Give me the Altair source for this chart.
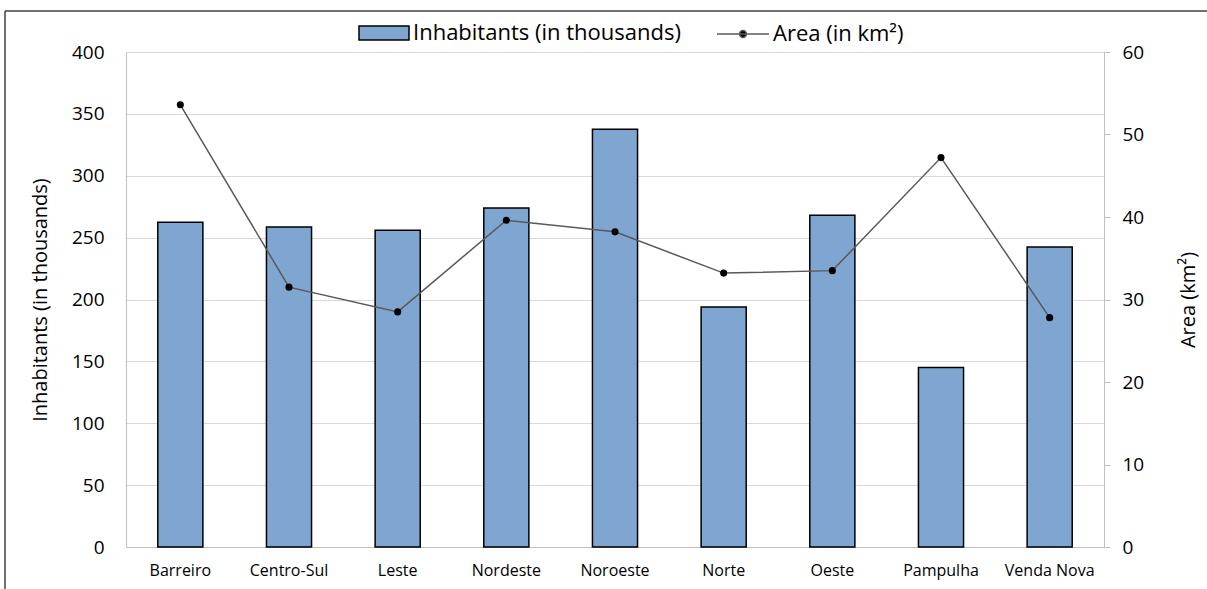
import altair as alt
import pandas as pd

districts = ["Barreiro", "Centro-Sul", "Leste", "Nordeste", "Noroeste",
             "Norte", "Oeste", "Pampulha", "Venda Nova"]
inhabitants = [262.5, 258.5, 256, 274, 337.5, 194, 268, 145, 242.5]
area = [53.6, 31.5, 28.5, 39.6, 38.2, 33.2, 33.5, 47.2, 27.8]

S1 = "Inhabitants (in thousands)"
S2 = "Area (in km²)"

df = pd.DataFrame({"district": districts, "inh": inhabitants, "area": area,
                   "s1": S1, "s2": S2})

FONT = "Open Sans"
x = alt.X("district:N", sort=districts, title=None,
          scale=alt.Scale(paddingInner=0.585, paddingOuter=0.2925),
          axis=alt.Axis(labelAngle=0, labelFontSize=16, labelPadding=15,
                        ticks=False, domainColor="#bfbfbf", labelColor="#000",
                        labelFont=FONT))

right_axis = alt.Axis(values=list(range(0, 61, 10)), orient="right",
                      grid=False, tickSize=6, tickColor="#bfbfbf",
                      labelPadding=12, labelFontSize=19, titleFontSize=20,
                      titleFontWeight="normal", titlePadding=55, titleAngle=270,
                      domainColor="#bfbfbf", labelColor="#000",
                      titleColor="#000", labelFont=FONT, titleFont=FONT)

base = alt.Chart(df)

bars = base.mark_bar(stroke="black", strokeWidth=1.5).encode(
    x=x,
    y=alt.Y("inh:Q", title="Inhabitants (in thousands)",
            scale=alt.Scale(domain=[0, 400]),
            axis=alt.Axis(values=list(range(0, 401, 50)), orient="left",
                          ticks=False, labelPadding=22, labelFontSize=19,
                          titleFontSize=20, titleFontWeight="normal",
                          titlePadding=21, domainColor="#bfbfbf",
                          gridColor="#d9d9d9", labelColor="#000",
                          titleColor="#000", labelFont=FONT, titleFont=FONT)),
    fill=alt.Fill("s1:N", scale=alt.Scale(domain=[S1], range=["#7fa6d0"]),
                  legend=alt.Legend(title=None, orient="none", legendX=232,
                                    legendY=-45, labelFontSize=22,
                                    labelFont=FONT, labelColor="#000",
                                    labelLimit=500,
                                    symbolType="M-1,-0.28H1V0.28H-1Z",
                                    symbolSize=2500, symbolStrokeColor="black",
                                    symbolStrokeWidth=1.5, labelOffset=3,
                                    padding=0)),
)

line = base.mark_line(color="#595959", strokeWidth=1.5).encode(
    x=x,
    y=alt.Y("area:Q", title="Area (km²)", scale=alt.Scale(domain=[0, 60]),
            axis=right_axis),
    stroke=alt.Stroke("s2:N", scale=alt.Scale(domain=[S2], range=["#595959"]),
                      legend=alt.Legend(title=None, orient="none", legendX=590,
                                        legendY=-45, labelFontSize=22,
                                        labelFont=FONT, labelColor="#000",
                                        labelLimit=500,
                                        symbolType="M-1,0H1M-0.13,0A0.13,0.13 0 1,1 0.13,0A0.13,0.13 0 1,1 -0.13,0Z",
                                        symbolSize=2700, symbolFillColor="black",
                                        symbolStrokeWidth=1.5, labelOffset=3,
                                        padding=0)),
)

points = base.mark_point(filled=True, color="black", size=50, opacity=1).encode(
    x=x,
    y=alt.Y("area:Q", title="Area (km²)", scale=alt.Scale(domain=[0, 60]),
            axis=right_axis),
)

frame_data = alt.Data(values=[{"k": 1}])
left_border = alt.Chart(frame_data).mark_rule(color="#404040", strokeWidth=1.5).encode(
    x=alt.value(-121), y=alt.value(-41), y2=alt.value(540))
top_border = alt.Chart(frame_data).mark_rule(color="#404040", strokeWidth=1.5).encode(
    x=alt.value(-121), x2=alt.value(1090), y=alt.value(-41))

right = alt.layer(line, points)
chart = alt.layer(bars, right, left_border, top_border).resolve_scale(
    y="independent", fill="independent", stroke="independent"
).properties(
    width=978, height=495,
    autosize=alt.AutoSizeParams(type="none"),
    padding={"left": 126, "top": 52, "right": 103, "bottom": 42},
    background="white",
).configure_view(stroke=None)

chart.save("out.html", embed_options={"renderer": "svg", "actions": False})
